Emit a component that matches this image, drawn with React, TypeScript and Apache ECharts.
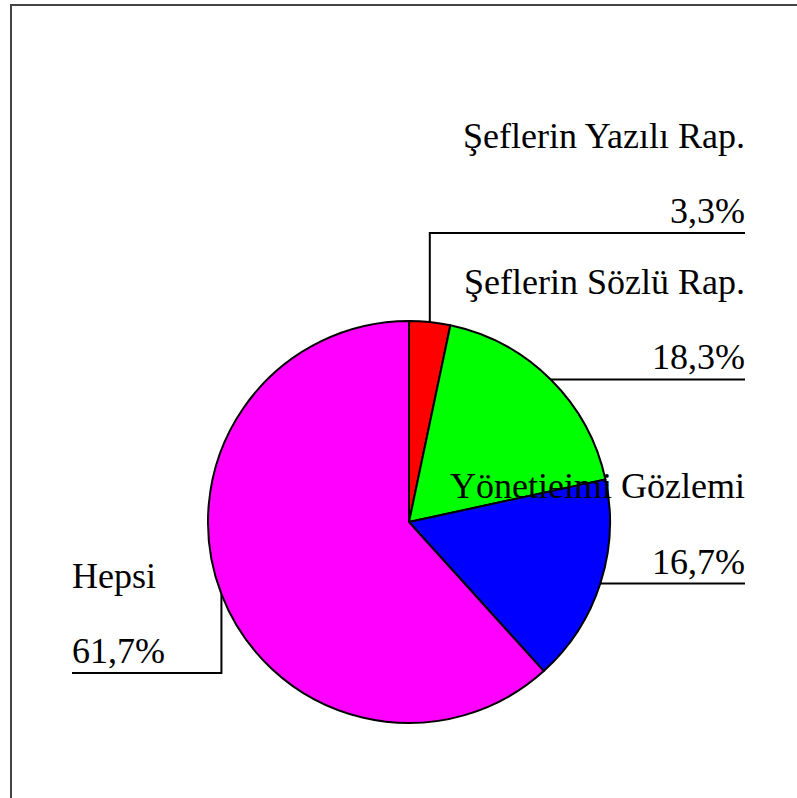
import React, { useEffect, useRef } from "react";
import * as echarts from "echarts";

const categories = ["Şeflerin Yazılı Rap.", "Şeflerin Sözlü Rap.", "Yönetieimi Gözlemi", "Hepsi"];
const values = [3.3, 18.3, 16.7, 61.7];
const colors = ["#ff0000", "#00ff00", "#0000ff", "#ff00ff"];

const FONT = "Liberation Serif";
const FS = 36;

export default function App() {
  const ref = useRef<HTMLDivElement>(null);

  useEffect(() => {
    const chart = echarts.init(ref.current!, null, { renderer: "svg" });
    const CX = 409;
    const CY = 522;
    const R = 201;
    const total = values.reduce((a, b) => a + b, 0);

    const anchor = (i: number): number[] => {
      let cum = 0;
      for (let j = 0; j < i; j++) cum += values[j];
      const a = ((cum + values[i] / 2) / total) * Math.PI * 2;
      return [CX + R * Math.sin(a), CY - R * Math.cos(a)];
    };

    // label arrangement: side, y of the underline (null = anchor height)
    const RIGHT_X = 745;
    const LEFT_X = 72;
    const layoutRows: { side: "right" | "left"; lineY: number | null }[] = [
      { side: "right", lineY: 233 },
      { side: "right", lineY: null },
      { side: "right", lineY: null },
      { side: "left", lineY: 673 },
    ];

    const fmt = (p: number) => p.toFixed(1).replace(".", ",");

    const data = categories.map((name, i) => {
      const align = layoutRows[i].side === "right" ? "right" : "left";
      return {
        name,
        value: values[i],
        itemStyle: { color: colors[i] },
        label: {
          fontFamily: FONT,
          fontSize: FS,
          color: "#000",
          rich: {
            n: { fontSize: FS, fontFamily: FONT, color: "#000", lineHeight: 107, align },
            p: { fontSize: FS, fontFamily: FONT, color: "#000", lineHeight: 44, align },
          },
        },
      };
    });

    chart.setOption({
      animation: false,
      backgroundColor: "#ffffff",
      textStyle: { fontFamily: FONT },
      graphic: [
        {
          type: "rect",
          shape: { x: 11, y: 5, width: 1000, height: 1000 },
          style: { fill: "none", stroke: "#444", lineWidth: 2 },
          silent: true,
        },
      ],
      series: [
        {
          type: "pie",
          center: [CX, CY],
          radius: R,
          startAngle: 90,
          clockwise: true,
          avoidLabelOverlap: false,
          data,
          itemStyle: { borderColor: "#000", borderWidth: 2 },
          label: {
            show: true,
            position: "outside",
            fontFamily: FONT,
            fontSize: FS,
            color: "#000",
            formatter: (p: any) => `{n|${p.name}}\n{p|${fmt(p.percent)}%}`,
          },
          labelLine: {
            show: true,
            length: 20,
            length2: 20,
            lineStyle: { color: "#000", width: 2 },
          },
          labelLayout: (params: any) => {
            const i = params.dataIndex;
            const row = layoutRows[i];
            const p0 =
              params.labelLinePoints && params.labelLinePoints[0]
                ? params.labelLinePoints[0]
                : anchor(i);
            const x0 = p0[0];
            const y0 = p0[1];
            const ly = row.lineY == null ? y0 : row.lineY;
            let pts: number[][];
            if (row.side === "right") {
              pts = row.lineY == null ? [[x0, y0], [RIGHT_X, ly]] : [[x0, y0], [x0, ly], [RIGHT_X, ly]];
              return {
                x: RIGHT_X,
                y: ly,
                align: "right",
                verticalAlign: "bottom",
                labelLinePoints: pts,
              };
            }
            pts = [[x0, y0], [x0, ly], [LEFT_X, ly]];
            return {
              x: LEFT_X,
              y: ly,
              align: "left",
              verticalAlign: "bottom",
              labelLinePoints: pts,
            };
          },
        },
      ],
    });

    return () => chart.dispose();
  }, []);

  return (
    <div
      ref={ref}
      style={{ position: "absolute", left: 0, top: 0, width: 797, height: 798 }}
    />
  );
}
